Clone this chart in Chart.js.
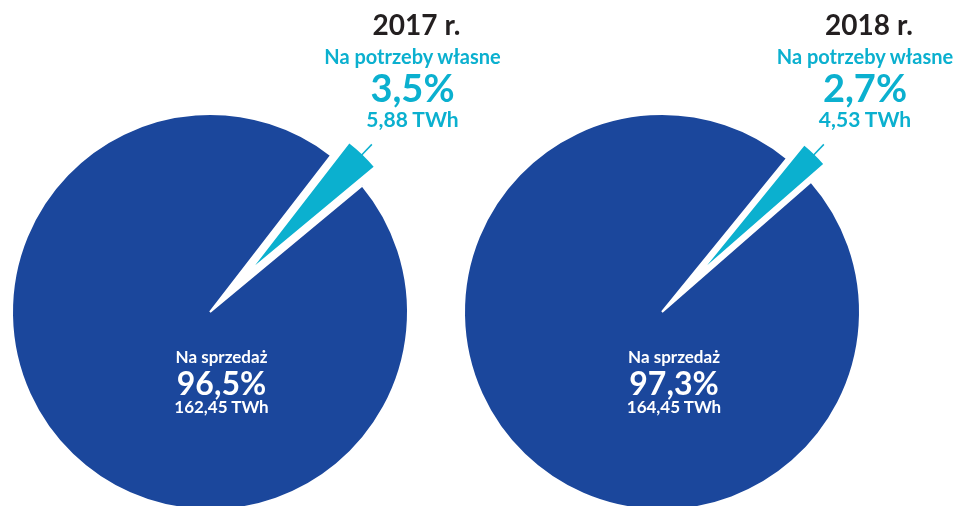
<!DOCTYPE html>
<html>
<head>
<meta charset="utf-8">
<script src="https://cdn.jsdelivr.net/npm/chart.js@4.4.1/dist/chart.umd.min.js"></script>
<style>
  html, body { margin: 0; padding: 0; background: #fff; }
  body { width: 960px; height: 506px; overflow: hidden; position: relative; font-family: Lato, "Open Sans", sans-serif; font-weight: 700; }
  .pie { position: absolute; top: 0; width: 440px; height: 624px; }
  .lbl { position: absolute; transform: translateX(-50%); white-space: nowrap; line-height: 1; }
</style>
</head>
<body>
<div class="pie" id="box0"><canvas id="pie0"></canvas></div>
<div class="pie" id="box1"><canvas id="pie1"></canvas></div>

<script>
let years = ['2017 r.', '2018 r.'];
let categories = ['Na potrzeby własne', 'Na sprzedaż'];
let ownUseShare = [3.5, 2.7];     // %
let saleShare = [96.5, 97.3];     // %
let ownUseTWh = ['5,88', '4,53'];
let saleTWh = ['162,45', '164,45'];

let cyan = '#0bb0cf';
let blue = '#1b479c';
let dark = '#231f20';

let pieCenters = [209.5, 662];
let midAngle = 44;   // direction of the pulled out slice, degrees from top

function pct(v) {
    return v.toString().replace('.', ',') + '%';
}

// pulls the small slice out and shortens it, then draws the little leader line
let sliceTweak = {
    id: 'sliceTweak',
    afterDatasetUpdate: function (chart, args, opts) {
        let arc = chart.getDatasetMeta(0).data[0];
        if (!arc) return;
        let mid = (arc.startAngle + arc.endAngle) / 2;
        arc.x += Math.cos(mid) * opts.shift;
        arc.y += Math.sin(mid) * opts.shift;
        arc.outerRadius = opts.radius;
    },
    afterDatasetsDraw: function (chart, args, opts) {
        let arc = chart.getDatasetMeta(0).data[0];
        if (!arc) return;
        let mid = (arc.startAngle + arc.endAngle) / 2;
        let ctx = chart.ctx;
        ctx.save();
        ctx.strokeStyle = cyan;
        ctx.lineWidth = 1.5;
        ctx.beginPath();
        ctx.moveTo(arc.x + Math.cos(mid) * (opts.radius - 1), arc.y + Math.sin(mid) * (opts.radius - 1));
        ctx.lineTo(arc.x + Math.cos(mid) * (opts.radius + opts.tick), arc.y + Math.sin(mid) * (opts.radius + opts.tick));
        ctx.stroke();
        ctx.restore();
    }
};

function addLabel(text, cx, top, size, color) {
    let d = document.createElement('div');
    d.className = 'lbl';
    d.textContent = text;
    d.style.left = cx + 'px';
    d.style.top = top + 'px';
    d.style.fontSize = size + 'px';
    d.style.color = color;
    document.body.appendChild(d);
}

years.forEach(function (year, i) {
    let box = document.getElementById('box' + i);
    box.style.left = (pieCenters[i] - 220) + 'px';

    new Chart(document.getElementById('pie' + i), {
        type: 'pie',
        data: {
            labels: categories,
            datasets: [{
                data: [ownUseShare[i], saleShare[i]],
                backgroundColor: [cyan, blue],
                borderColor: '#ffffff',
                borderWidth: [0, 2]
            }]
        },
        options: {
            responsive: true,
            maintainAspectRatio: false,
            animation: false,
            events: [],
            radius: 198,
            rotation: midAngle - ownUseShare[i] * 3.6 / 2,
            layout: { padding: 0 },
            plugins: {
                legend: { display: false },
                tooltip: { enabled: false },
                sliceTweak: { shift: 65, radius: 154, tick: 14 }
            }
        },
        plugins: [sliceTweak]
    });

    // headline above the small slice
    let tx = pieCenters[i] + 203;
    addLabel(year, tx + 4, 10, 28, dark);
    addLabel(categories[0], tx, 45.5, 20, cyan);
    addLabel(pct(ownUseShare[i]), tx, 68, 38, cyan);
    addLabel(ownUseTWh[i] + ' TWh', tx, 107.5, 21, cyan);

    // label inside the big slice
    let ix = pieCenters[i] + 12;
    addLabel(categories[1], ix, 348, 17, '#ffffff');
    addLabel(pct(saleShare[i]), ix, 367, 32, '#ffffff');
    addLabel(saleTWh[i] + ' TWh', ix, 398, 17, '#ffffff');
});
</script>
</body>
</html>
